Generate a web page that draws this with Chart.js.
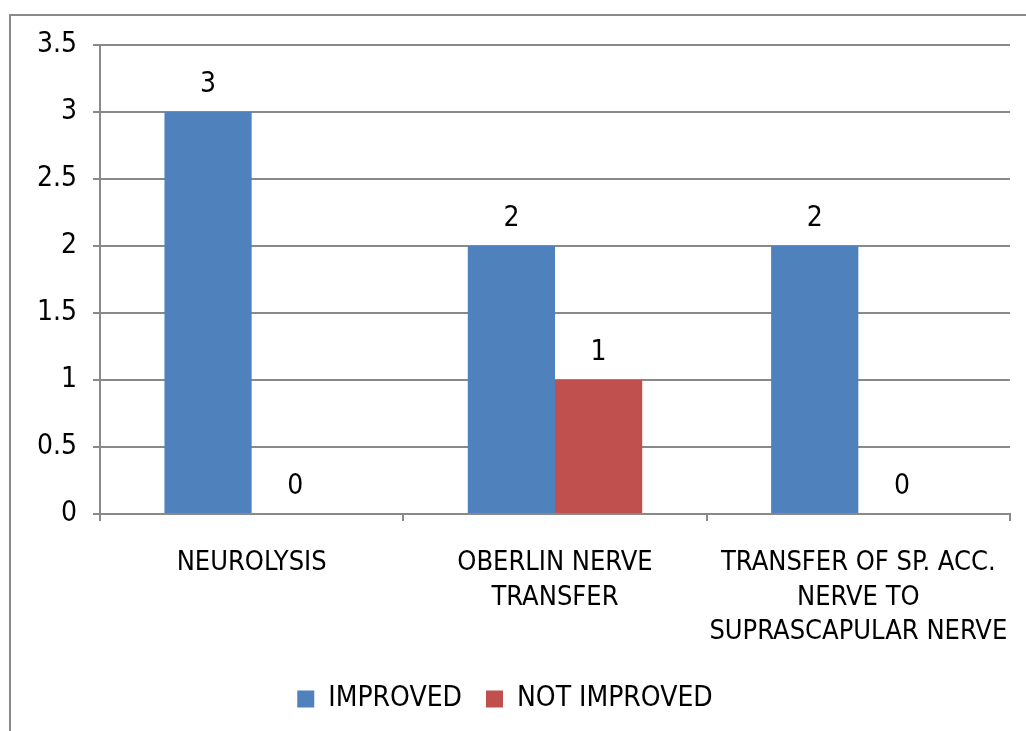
<!DOCTYPE html>
<html>
<head>
<meta charset="utf-8">
<script src="https://cdn.jsdelivr.net/npm/chart.js@4/dist/chart.umd.min.js"></script>
<style>
  html, body { margin: 0; padding: 0; background: #fff; }
  #wrap { width: 1026px; height: 731px; }
</style>
</head>
<body>
<div id="wrap"><canvas id="myChart"></canvas></div>
<script>
const categories = [
  ["NEUROLYSIS"],
  ["OBERLIN NERVE", "TRANSFER"],
  ["TRANSFER OF SP. ACC.", "NERVE TO", "SUPRASCAPULAR NERVE"]
];
const improved = [3, 2, 2];
const notImproved = [0, 1, 0];
const yMax = 3.5;
const yStep = 0.5;

const FONT = "'Liberation Sans Narrow', 'DejaVu Sans Condensed', sans-serif";
const GRID = "#898989";

// grey frame around the whole chart
const frame = {
  id: 'frame',
  beforeDraw(chart) {
    const ctx = chart.ctx;
    ctx.save();
    ctx.fillStyle = '#fff';
    ctx.fillRect(0, 0, chart.width, chart.height);
    ctx.strokeStyle = GRID;
    ctx.lineWidth = 2;
    ctx.strokeRect(10, 15, chart.width + 20, chart.height + 20);
    ctx.restore();
  }
};

// value printed above each bar
const valueLabels = {
  id: 'valueLabels',
  afterDatasetsDraw(chart) {
    const ctx = chart.ctx;
    ctx.save();
    ctx.font = '28px ' + FONT;
    ctx.fillStyle = '#000';
    ctx.textAlign = 'center';
    ctx.textBaseline = 'bottom';
    chart.data.datasets.forEach((ds, i) => {
      chart.getDatasetMeta(i).data.forEach((bar, j) => {
        ctx.fillText(String(ds.data[j]), bar.x, bar.y - 13);
      });
    });
    ctx.restore();
  }
};

new Chart(document.getElementById('myChart'), {
  type: 'bar',
  data: {
    labels: categories,
    datasets: [
      { label: 'IMPROVED', data: improved, backgroundColor: '#4F81BD' },
      { label: 'NOT IMPROVED', data: notImproved, backgroundColor: '#C0504D' }
    ]
  },
  options: {
    responsive: true,
    maintainAspectRatio: false,
    animation: false,
    categoryPercentage: 0.575,
    barPercentage: 1,
    layout: { padding: { top: 45, right: 16, left: 0, bottom: 8 } },
    plugins: {
      tooltip: { enabled: false },
      legend: {
        position: 'bottom',
        labels: {
          font: { family: FONT, size: 28 },
          color: '#000',
          boxWidth: 17,
          boxHeight: 17,
          padding: 24
        }
      }
    },
    scales: {
      x: {
        grid: { drawOnChartArea: false, drawTicks: true, tickLength: 7, color: GRID, lineWidth: 2 },
        border: { color: GRID, width: 2 },
        ticks: {
          font: { family: FONT, size: 27, lineHeight: 1.28 },
          color: '#000',
          padding: 25,
          maxRotation: 0,
          autoSkip: false
        },
        afterFit(scale) {
          scale.height = 147;
          // labels fit inside their categories, no extra side room needed
          scale.paddingLeft = 0;
          scale.paddingRight = 0;
        }
      },
      y: {
        min: 0,
        max: yMax,
        ticks: {
          stepSize: yStep,
          font: { family: FONT, size: 28 },
          color: '#000',
          padding: 16,
          callback: (v) => String(v)
        },
        grid: { color: GRID, lineWidth: 2, tickLength: 7 },
        border: { color: GRID, width: 2 },
        afterFit(scale) { scale.width = 100; }
      }
    }
  },
  plugins: [frame, valueLabels]
});
</script>
</body>
</html>
